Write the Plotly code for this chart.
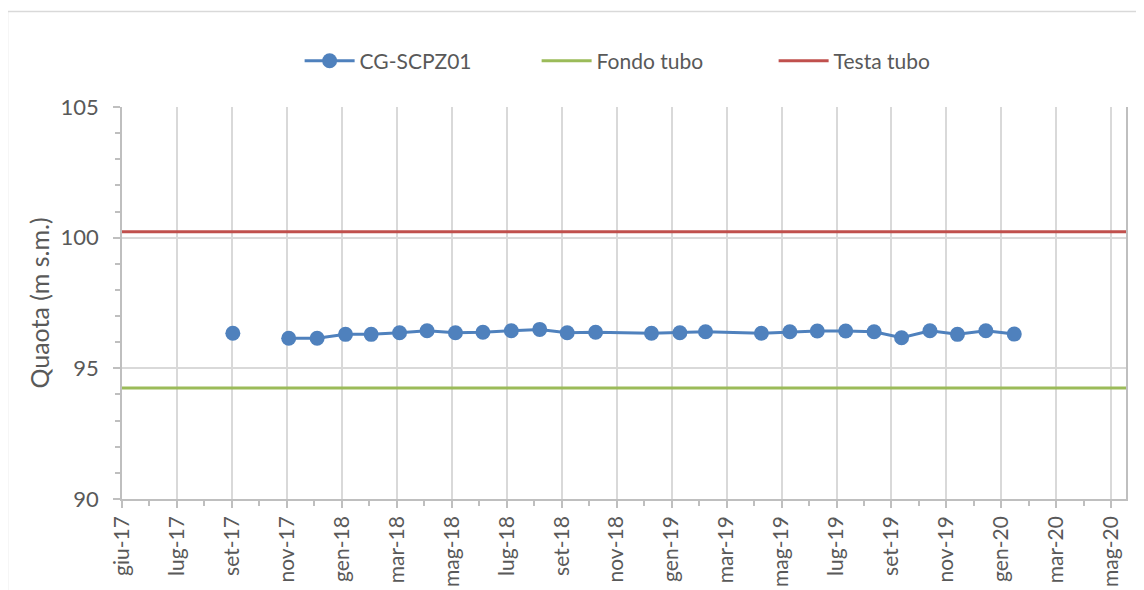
import plotly.graph_objects as go

# measurement dates (end of month) and water level of CG-SCPZ01
dates = ["2017-09-30", "2017-10-31", "2017-11-30", "2017-12-31", "2018-01-31",
         "2018-02-28", "2018-03-31", "2018-04-30", "2018-05-31", "2018-06-30",
         "2018-07-31", "2018-08-31", "2018-09-30", "2018-10-31", "2018-12-31",
         "2019-01-31", "2019-02-28", "2019-04-30", "2019-05-31", "2019-06-30",
         "2019-07-31", "2019-08-31", "2019-09-30", "2019-10-31", "2019-11-30",
         "2019-12-31", "2020-01-31"]
quota = [96.34, None, 96.15, 96.15, 96.30, 96.30, 96.36, 96.44, 96.36, 96.38,
         96.44, 96.49, 96.36, 96.38, 96.34, 96.36, 96.40, 96.34, 96.40, 96.43,
         96.43, 96.40, 96.17, 96.44, 96.30, 96.44, 96.31]

fondo_tubo = 94.25
testa_tubo = 100.23

x_start = "2017-06-01"
x_end = "2020-06-01"

tick_dates = ["2017-06-01", "2017-07-31", "2017-09-29", "2017-11-28", "2018-01-27",
              "2018-03-28", "2018-05-27", "2018-07-26", "2018-09-24", "2018-11-23",
              "2019-01-22", "2019-03-23", "2019-05-22", "2019-07-21", "2019-09-19",
              "2019-11-18", "2020-01-17", "2020-03-17", "2020-05-16"]
tick_labels = ["giu-17", "lug-17", "set-17", "nov-17", "gen-18", "mar-18", "mag-18",
               "lug-18", "set-18", "nov-18", "gen-19", "mar-19", "mag-19", "lug-19",
               "set-19", "nov-19", "gen-20", "mar-20", "mag-20"]

FONT = "Lato, Calibri, Carlito, sans-serif"
GREY = "#595959"
GRID = "#d9d9d9"
AXIS = "#bfbfbf"

fig = go.Figure()

fig.add_trace(go.Scatter(
    x=dates, y=quota, name="CG-SCPZ01", mode="lines+markers",
    line=dict(color="#4f81bd", width=3),
    marker=dict(color="#4f81bd", size=15),
    connectgaps=False,
))
fig.add_trace(go.Scatter(
    x=[x_start, x_end], y=[fondo_tubo, fondo_tubo], name="Fondo tubo",
    mode="lines", line=dict(color="#9bbb59", width=3),
))
fig.add_trace(go.Scatter(
    x=[x_start, x_end], y=[testa_tubo, testa_tubo], name="Testa tubo",
    mode="lines", line=dict(color="#c0504d", width=3),
))

# outer chart border (cut off on the right and bottom in the picture)
fig.add_shape(type="rect", xref="paper", yref="paper",
              x0=(7.5 - 122) / 1004, x1=1.1, y0=-0.5, y1=(499 - 11.5) / 392,
              line=dict(color=GRID, width=1.5), layer="below")

fig.update_layout(
    width=1144, height=590,
    margin=dict(l=114, r=26, t=99, b=99),
    paper_bgcolor="white", plot_bgcolor="white",
    font=dict(family=FONT, color=GREY),
    showlegend=True,
    legend=dict(orientation="h", x=0.531, xanchor="center", y=1.117, yanchor="middle",
                font=dict(size=21, color=GREY), entrywidth=172, entrywidthmode="pixels",
                itemwidth=50),
    xaxis=dict(
        type="date", range=[x_start, x_end],
        tickmode="array", tickvals=tick_dates, ticktext=tick_labels,
        tickangle=-90, tickfont=dict(size=21, color=GREY),
        showgrid=True, gridcolor=GRID, gridwidth=1.5,
        showline=True, linecolor=AXIS, linewidth=1.5,
        ticks="outside", ticklen=7, tickcolor=AXIS, tickwidth=1.5,
        minor=dict(ticks="outside", ticklen=5, tickcolor=AXIS, tick0=x_start,
                   dtick=30 * 86400000, showgrid=False),
        zeroline=False,
    ),
    yaxis=dict(
        range=[90, 105], dtick=5, tick0=90,
        tickfont=dict(size=22, color=GREY), ticklabelstandoff=10,
        title=dict(text="Quaota (m s.m.)", font=dict(size=25, color=GREY), standoff=4),
        showgrid=True, gridcolor=GRID, gridwidth=1.5,
        showline=True, linecolor=AXIS, linewidth=1.5, mirror=True,
        ticks="outside", ticklen=7, tickcolor=AXIS, tickwidth=1.5,
        minor=dict(ticks="outside", ticklen=5, tickcolor=AXIS, dtick=1, showgrid=False),
        zeroline=False,
    ),
)

fig.write_html("out.html")
